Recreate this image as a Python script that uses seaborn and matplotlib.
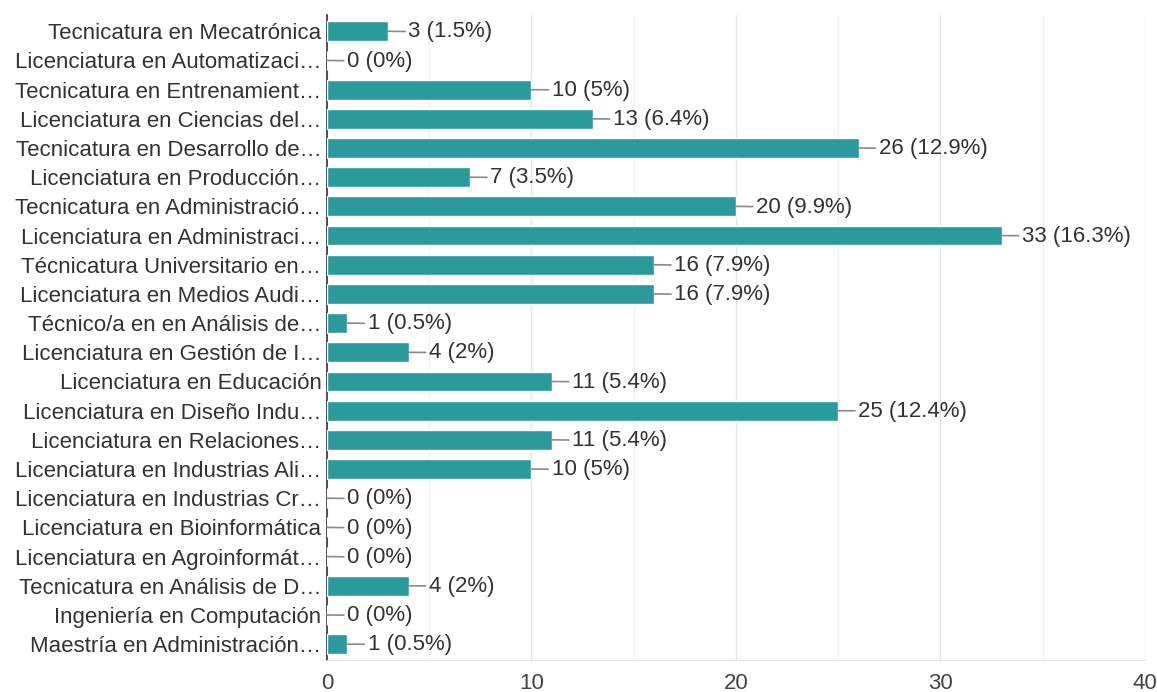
import matplotlib
matplotlib.use("Agg")
import matplotlib.pyplot as plt
import seaborn as sns
import pandas as pd
from matplotlib.ticker import MultipleLocator

# Data
carreras = [
    "Tecnicatura en Mecatrónica",
    "Licenciatura en Automatizaci…",
    "Tecnicatura en Entrenamient…",
    "Licenciatura en Ciencias del…",
    "Tecnicatura en Desarrollo de…",
    "Licenciatura en Producción…",
    "Tecnicatura en Administració…",
    "Licenciatura en Administraci…",
    "Técnicatura Universitario en…",
    "Licenciatura en Medios Audi…",
    "Técnico/a en en Análisis de…",
    "Licenciatura en Gestión de I…",
    "Licenciatura en Educación",
    "Licenciatura en Diseño Indu…",
    "Licenciatura en Relaciones…",
    "Licenciatura en Industrias Ali…",
    "Licenciatura en Industrias Cr…",
    "Licenciatura en Bioinformática",
    "Licenciatura en Agroinformát…",
    "Tecnicatura en Análisis de D…",
    "Ingeniería en Computación",
    "Maestría en Administración…",
]
cantidades = [3, 0, 10, 13, 26, 7, 20, 33, 16, 16, 1, 4, 11, 25, 11, 10, 0, 0, 0, 4, 0, 1]
porcentajes = ["1.5%", "0%", "5%", "6.4%", "12.9%", "3.5%", "9.9%", "16.3%", "7.9%", "7.9%",
               "0.5%", "2%", "5.4%", "12.4%", "5.4%", "5%", "0%", "0%", "0%", "2%", "0%", "0.5%"]

df = pd.DataFrame({"carrera": carreras, "cantidad": cantidades})

sns.set_style("white")
plt.rcParams["font.family"] = ["Liberation Sans", "DejaVu Sans"]

fig = plt.figure(figsize=(11.57, 6.92), dpi=100)
ax = fig.add_axes([0.2826, 0.046, 0.707, 0.932])

sns.barplot(data=df, x="cantidad", y="carrera", color="#2b9a9c", saturation=1,
            width=0.68, ax=ax, zorder=3)

for i, (v, p) in enumerate(zip(cantidades, porcentajes)):
    ax.annotate(f"{v} ({p})", xy=(v, i), xytext=(14.5, -0.5), textcoords="offset points",
                va="center", ha="left", fontsize=16, color="#333333",
                arrowprops=dict(arrowstyle="-", color="#8a8a8a", lw=1.2,
                                shrinkA=0, shrinkB=0))

ax.set_xlim(0, 40)
ax.set_ylim(len(carreras) - 0.45, -0.55)
ax.xaxis.set_major_locator(MultipleLocator(10))
ax.xaxis.set_minor_locator(MultipleLocator(5))
ax.grid(axis="x", which="major", color="#e6e6e6", lw=1, zorder=0)
ax.grid(axis="x", which="minor", color="#f1f1f1", lw=1, zorder=0)
ax.set_axisbelow(True)

for s in ["top", "right"]:
    ax.spines[s].set_visible(False)
ax.spines["bottom"].set_color("#e6e6e6")
ax.spines["left"].set_color("#333333")
ax.spines["left"].set_linewidth(1.2)

ax.set_xlabel("")
ax.set_ylabel("")
ax.tick_params(axis="y", length=0, pad=4, labelsize=16, labelcolor="#333333")
ax.tick_params(axis="x", which="both", length=0, pad=9, labelsize=16, labelcolor="#444444")

fig.savefig("out.png", dpi=100)
